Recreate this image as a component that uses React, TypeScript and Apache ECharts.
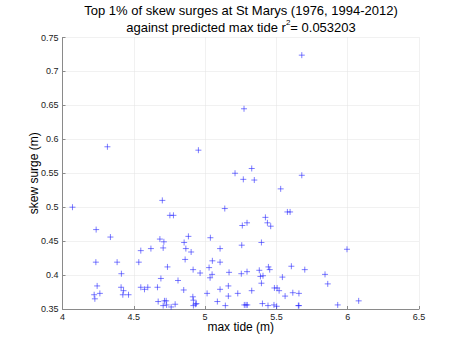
import React, { useEffect, useRef } from "react";
import * as echarts from "echarts";

const titleLine1 = "Top 1% of skew surges at St Marys (1976, 1994-2012)";
const titleLine2Prefix = "against predicted max tide r";
const titleLine2Suffix = "= 0.053203";
const xAxisName = "max tide (m)";
const yAxisName = "skew surge (m)";

const maxTide: number[] = [
  5.678, 5.273, 4.315, 4.953, 5.327, 5.21, 5.268, 5.345, 5.678, 5.53,
  4.07, 5.138, 4.7, 5.577, 5.596, 4.753, 4.778, 5.423, 5.261, 5.294,
  5.437, 5.46, 4.236, 4.336, 4.883, 5.037, 4.683, 4.711, 4.853, 5.395,
  5.257, 4.706, 4.62, 4.865, 5.105, 5.995, 4.549, 4.902, 4.86, 5.051,
  4.234, 4.383, 4.535, 5.105, 5.605, 5.444, 4.736, 5.028, 4.916, 5.453,
  5.699, 5.38, 5.294, 5.168, 4.965, 4.413, 5.254, 5.841, 5.049, 5.406,
  5.388, 5.542, 5.035, 4.69, 4.81, 5.395, 5.86, 4.243, 5.163, 4.411,
  4.549, 4.598, 4.666, 5.486, 5.505, 4.575, 5.105, 4.85, 5.327, 4.428,
  5.519, 5.615, 5.658, 4.262, 5.014, 5.229, 4.222, 4.423, 4.463, 4.914,
  5.163, 5.561, 4.227, 4.918, 4.715, 4.727, 4.671, 5.086, 6.077, 5.402,
  4.939, 4.932, 4.79, 4.73, 5.93, 5.275, 5.287, 5.296, 5.483, 4.706,
  4.918, 5.142, 5.441, 5.654, 5.502, 4.762, 5.658
];

const skewSurge: number[] = [
  0.724, 0.645, 0.589, 0.584, 0.557, 0.55, 0.541, 0.54, 0.547, 0.527,
  0.5, 0.498, 0.51, 0.493, 0.493, 0.488, 0.488, 0.485, 0.473, 0.477,
  0.477, 0.472, 0.467, 0.456, 0.457, 0.455, 0.453, 0.449, 0.448, 0.448,
  0.444, 0.44, 0.439, 0.439, 0.439, 0.438, 0.436, 0.434, 0.423, 0.421,
  0.419, 0.419, 0.419, 0.419, 0.413, 0.412, 0.412, 0.411, 0.408, 0.408,
  0.408, 0.407, 0.405, 0.404, 0.403, 0.402, 0.402, 0.401, 0.401, 0.399,
  0.398, 0.397, 0.396, 0.395, 0.392, 0.388, 0.387, 0.384, 0.384, 0.382,
  0.382, 0.382, 0.382, 0.381, 0.381, 0.379, 0.379, 0.378, 0.377, 0.377,
  0.377, 0.374, 0.373, 0.373, 0.373, 0.373, 0.371, 0.371, 0.371, 0.368,
  0.369, 0.369, 0.365, 0.363, 0.362, 0.362, 0.361, 0.361, 0.362, 0.358,
  0.358, 0.357, 0.357, 0.356, 0.356, 0.356, 0.356, 0.356, 0.356, 0.355,
  0.355, 0.355, 0.355, 0.355, 0.354, 0.353, 0.355
];

const xTicks = { min: 4, max: 6.5, interval: 0.5 };
const yTicks = { min: 0.35, max: 0.75, interval: 0.05 };

export default function App() {
  const ref = useRef<HTMLDivElement>(null);

  useEffect(() => {
    document.body.style.margin = "0";
    if (!ref.current) return;
    const chart = echarts.init(ref.current, undefined, { renderer: "svg" });
    const data = maxTide.map((x, i) => [x, skewSurge[i]]);
    const font = "Liberation Sans, Arial, Helvetica, sans-serif";
    chart.setOption({
      animation: false,
      backgroundColor: "#ffffff",
      grid: { left: 62.5, right: 46, top: 37.5, bottom: 41, containLabel: false },
      graphic: [
        {
          type: "text",
          x: 241,
          y: 10,
          style: {
            text: titleLine1,
            font: `13px ${font}`,
            fill: "#000",
            textAlign: "center",
            textVerticalAlign: "middle",
          },
        },
        {
          type: "text",
          x: 241,
          y: 26,
          style: {
            text: `{n|${titleLine2Prefix}}{s|2}{n|${titleLine2Suffix}}`,
            textAlign: "center",
            textVerticalAlign: "middle",
            rich: {
              n: { fontSize: 13, fontFamily: font, fill: "#000", color: "#000", verticalAlign: "bottom", lineHeight: 16 },
              s: { fontSize: 8, fontFamily: font, fill: "#000", color: "#000", verticalAlign: "top", lineHeight: 16 },
            },
          },
        },
      ],
      xAxis: {
        type: "value",
        min: xTicks.min,
        max: xTicks.max,
        interval: xTicks.interval,
        name: xAxisName,
        nameLocation: "middle",
        nameGap: 12,
        nameMoveOverlap: false,
        nameTextStyle: { fontSize: 12, fontFamily: font, color: "#000" },
        axisLine: { show: true, onZero: false, lineStyle: { color: "#8a8a8a", width: 1 } },
        axisTick: { show: true, inside: true, length: 3, lineStyle: { color: "#8a8a8a" } },
        axisLabel: {
          fontSize: 9,
          fontFamily: font,
          color: "#222",
          margin: 3,
          formatter: (v: number) => String(+v.toFixed(2)),
        },
        splitLine: { show: true, lineStyle: { color: "#e2e2e2", type: "dotted", width: 1 } },
      },
      yAxis: {
        type: "value",
        min: yTicks.min,
        max: yTicks.max,
        interval: yTicks.interval,
        name: yAxisName,
        nameLocation: "middle",
        nameGap: 23,
        nameMoveOverlap: false,
        nameTextStyle: { fontSize: 12, fontFamily: font, color: "#000" },
        axisLine: { show: true, onZero: false, lineStyle: { color: "#8a8a8a", width: 1 } },
        axisTick: { show: true, inside: true, length: 3, lineStyle: { color: "#8a8a8a" } },
        axisLabel: {
          fontSize: 9,
          fontFamily: font,
          color: "#222",
          margin: 4,
          formatter: (v: number) => String(+v.toFixed(2)),
        },
        splitLine: { show: true, lineStyle: { color: "#e2e2e2", type: "dotted", width: 1 } },
      },
      series: [
        {
          type: "scatter",
          data,
          symbol: "path://M0,-1L0,1M-1,0L1,0",
          symbolSize: 6,
          itemStyle: { color: "none", borderColor: "rgba(40,40,255,0.75)", borderWidth: 1 },
          emphasis: { disabled: true },
        },
      ],
    });
    return () => chart.dispose();
  }, []);

  return <div ref={ref} style={{ width: 465, height: 350 }} />;
}
